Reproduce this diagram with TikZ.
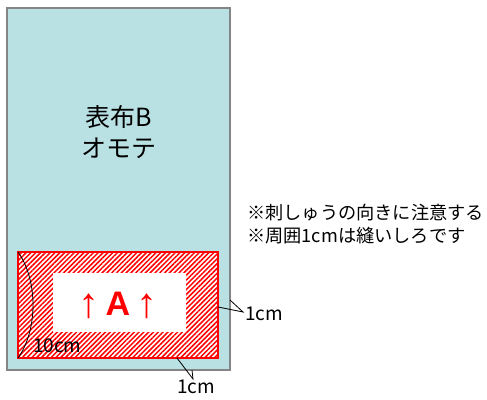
\documentclass[tikz,border=0pt]{standalone}
\usepackage{fontspec}
\setmainfont{Noto Sans CJK JP}
\newfontfamily\latinfont{Liberation Sans}
\usetikzlibrary{patterns.meta}
\definecolor{cloth}{HTML}{B9E0E3}
\definecolor{edge}{HTML}{858585}
\tikzset{
  lbl/.style={inner sep=0pt, font=\fontsize{19}{22}\selectfont, text=black},
  leader/.style={draw=black, line width=0.8pt},
}
\begin{document}
\begin{tikzpicture}[x=1pt,y=-1pt]
\useasboundingbox (0,0) rectangle (487,399);
% outer cloth
\draw[fill=cloth, draw=edge, line width=2pt] (7,8) rectangle (230,370);
\coordinate (outerR) at (230,300);
\coordinate (outerB) at (192,370);
% embroidery area
\fill[white] (18,252) rectangle (218,358);
\fill[pattern={Lines[angle=45,distance=3.4pt,line width=1.5pt]}, pattern color=red] (18,252) rectangle (218,358);
\draw[red, line width=1.5pt] (18,252) rectangle (218,358);
\fill[white] (53,273) rectangle (186,332);
\coordinate (redR) at (218,307);
\coordinate (redB) at (177,358);
% arc
\draw[black, line width=0.8pt] (18,252) .. controls (38,280) and (38,330) .. (18,358);
% texts
\node[inner sep=0pt, font=\fontsize{25}{31}\selectfont, align=center] (title) at (119,132) {表布B\\オモテ};
\node[inner sep=0pt, text=red, font=\latinfont] (mark) at (118,305) {\raisebox{-2pt}{\fontsize{42}{42}\selectfont ↑}\hspace{6pt}{\fontsize{34}{34}\selectfont\bfseries A}\hspace{6pt}\raisebox{-2pt}{\fontsize{42}{42}\selectfont ↑}};
\node[lbl, anchor=west] (ten) at (33,346) {10cm};
\node[inner sep=0pt, anchor=west, font=\fontsize{18.2}{23}\selectfont, align=left] (notes) at (247,224) {※刺しゅうの向きに注意する\\※周囲1cmは縫いしろです};
\coordinate (kR) at (243,312);
\coordinate (kB) at (193,379);
\node[lbl, anchor=west] (oneR) at (245,314) {1cm};
\node[lbl, anchor=north] (oneB) at (196,380) {1cm};
\draw[leader] (redR) -- (kR) -- (outerR);
\draw[leader] (redB) -- (kB) -- (outerB);
\end{tikzpicture}
\end{document}
